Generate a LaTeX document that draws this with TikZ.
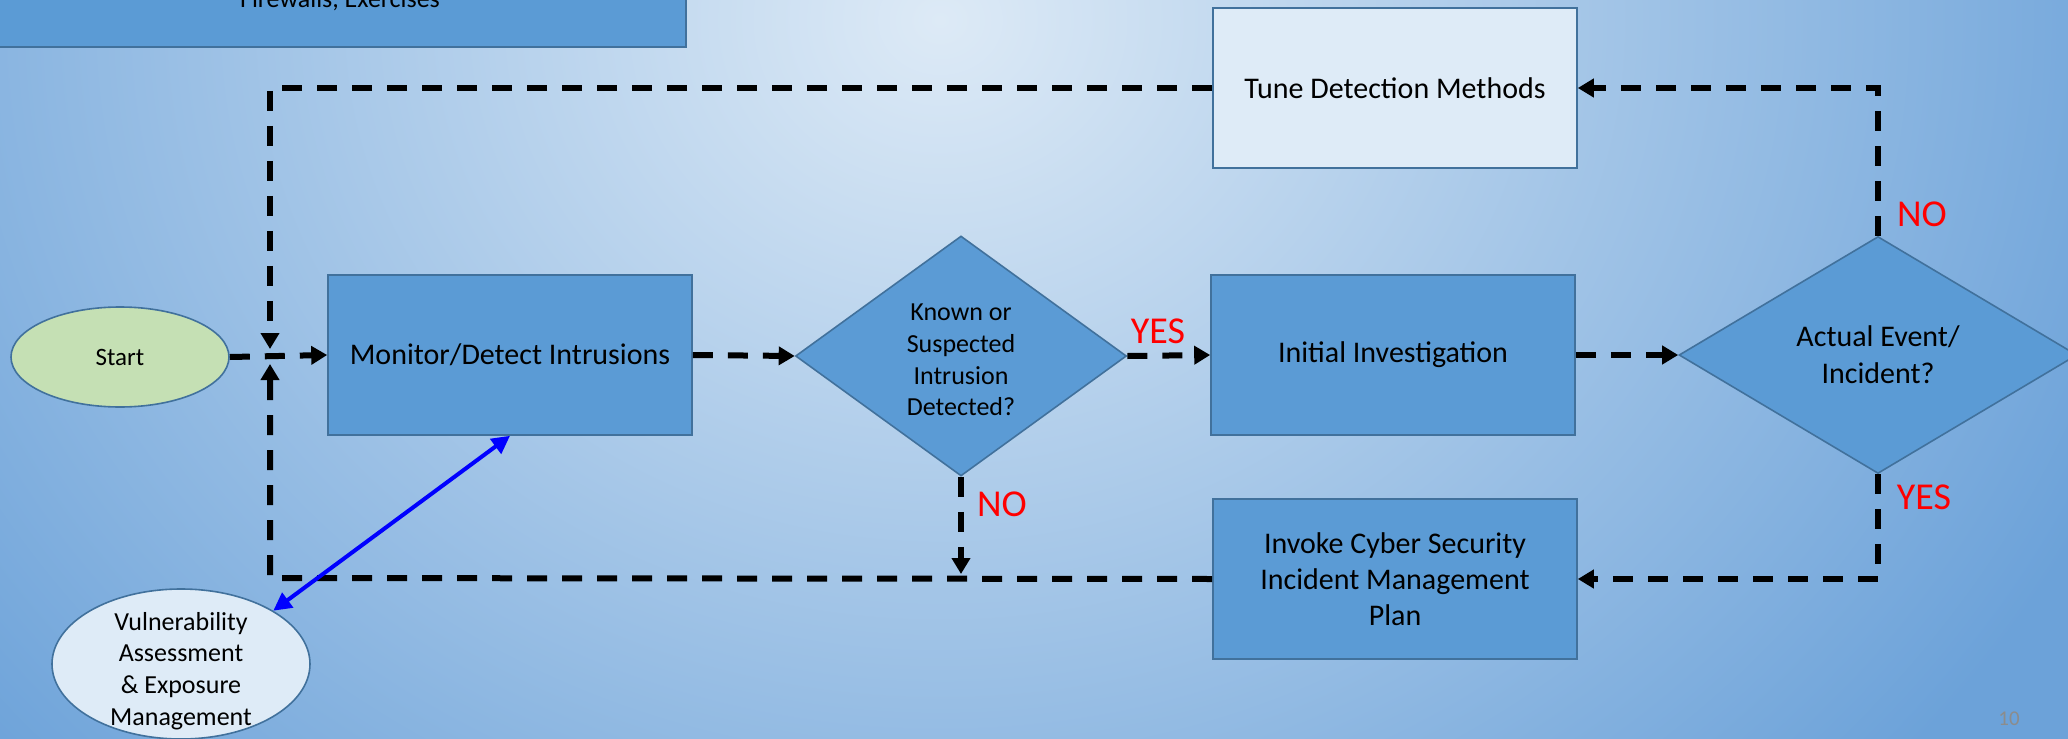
\documentclass[tikz,border=0pt]{standalone}
\usepackage{fontspec}
\setmainfont{Carlito}
\usetikzlibrary{arrows.meta,shapes.geometric}
\definecolor{bgblue}{HTML}{6CA2D9}
\definecolor{bglight}{HTML}{DDEAF6}
\definecolor{boxblue}{HTML}{5B9BD5}
\definecolor{boxline}{HTML}{41719C}
\definecolor{palefill}{HTML}{DEEBF7}
\definecolor{startgreen}{HTML}{C5E0B4}
\definecolor{pagegray}{HTML}{8C8C8C}
\begin{document}
\begin{tikzpicture}[x=0.5pt,y=-0.5pt,
  procbox/.style={draw=boxline, line width=0.8pt, fill=boxblue, minimum width=182pt,
    minimum height=80pt, inner sep=0pt, align=center, font=\fontsize{15}{18}\selectfont},
  palebox/.style={procbox, fill=palefill},
  decision/.style={diamond, draw=boxline, line width=0.8pt, fill=boxblue, inner sep=0pt, align=center},
  oval/.style={ellipse, draw=boxline, line width=0.8pt, inner sep=0pt, align=center},
  dashflow/.style={line width=3pt, dash pattern=on 10pt off 7.5pt,
    -{Triangle[length=8pt,width=9pt]}},
  answer/.style={text=red, font=\fontsize{19}{22}\selectfont, inner sep=0pt},
  linkarrow/.style={blue, line width=2pt,
    {Triangle[length=9pt,width=9pt]}-{Triangle[length=9pt,width=9pt]}}]
\useasboundingbox (0,0) rectangle (2068,739);

% backdrop: blue with a soft light glow near the top centre
\begin{scope}
  \clip (0,0) rectangle (2068,739);
  \fill[bgblue] (0,0) rectangle (2068,739);
  \shade[inner color=bglight, outer color=bgblue] (940,20) ellipse [x radius=640pt, y radius=560pt];
\end{scope}

% box running off the top-left corner
\path[draw=boxline, line width=0.8pt, fill=boxblue] (-20,-150) rectangle (686,47);
\node[anchor=base, inner sep=0pt, font=\fontsize{13}{15.6}\selectfont] (fw) at (340,7) {Firewalls, Exercises};

% flow nodes
\node[oval, fill=startgreen, minimum width=109pt, minimum height=50pt,
      font=\fontsize{12.5}{15}\selectfont] (start) at (120,357) {Start};
\node[procbox] (mon) at (510,355) {Monitor/Detect Intrusions};
\node[decision, minimum width=165.5pt, minimum height=120pt] (d1) at (961,356) {};
\node[align=center, inner sep=0pt, font=\fontsize{13}{15.8}\selectfont] (d1text) at (961,360)
      {Known or\\Suspected\\Intrusion\\Detected?};
\node[procbox] (ini) at (1393,355) {Initial Investigation};
\node[decision, minimum width=199pt, minimum height=118.5pt,
      font=\fontsize{15}{18.5}\selectfont] (d2) at (1878,355)
      {Actual Event/\\Incident?};
\node[palebox] (tune) at (1395,88) {Tune Detection Methods};
\node[procbox] (inv) at (1395,579) {Invoke Cyber Security\\Incident Management\\Plan};
\node[oval, fill=palefill, minimum width=129pt, minimum height=75pt] (vul) at (181,664) {};
\node[align=center, inner sep=0pt, font=\fontsize{13}{15.8}\selectfont] (vultext) at (181,671)
      {Vulnerability\\Assessment\\\& Exposure\\Management};

% routing points of the feedback loops
\coordinate (jt) at (270,88);
\coordinate (jb) at (270,578);
\coordinate (jd) at (270,349);
\coordinate (ju) at (270,364);
\coordinate (rt) at (1878,88);
\coordinate (rb) at (1878,579);
\coordinate (nob) at (961,574);

% main flow
\draw[dashflow] (start.east) -- (mon.west);
\draw[dashflow] (mon.east) -- (d1.west);
\draw[dashflow] (d1.east) -- (ini.west);
\draw[dashflow] (ini.east) -- (d2.west);
\draw[dashflow] (d2.north) -- (rt) -- (tune.east);
\draw[dashflow] (d2.south) -- (rb) -- (inv.east);
\draw[dashflow] (tune.west) -- (jt) -- (jd);
\draw[dashflow] (inv.west) -- (jb) -- (ju);
\draw[dashflow] (d1.south) -- (nob);

% link to vulnerability management
\draw[linkarrow] (vul.30) -- (mon.south);

% answer labels
\node[answer] (yes1) at (1158,331) {YES};
\node[answer] (no1) at (1002,504) {NO};
\node[answer] (no2) at (1922,214) {NO};
\node[answer] (yes2) at (1924,497) {YES};

% slide number
\node[text=pagegray, font=\fontsize{10.5}{12}\selectfont, inner sep=0pt] (pg) at (2009,719) {10};
\end{tikzpicture}
\end{document}
